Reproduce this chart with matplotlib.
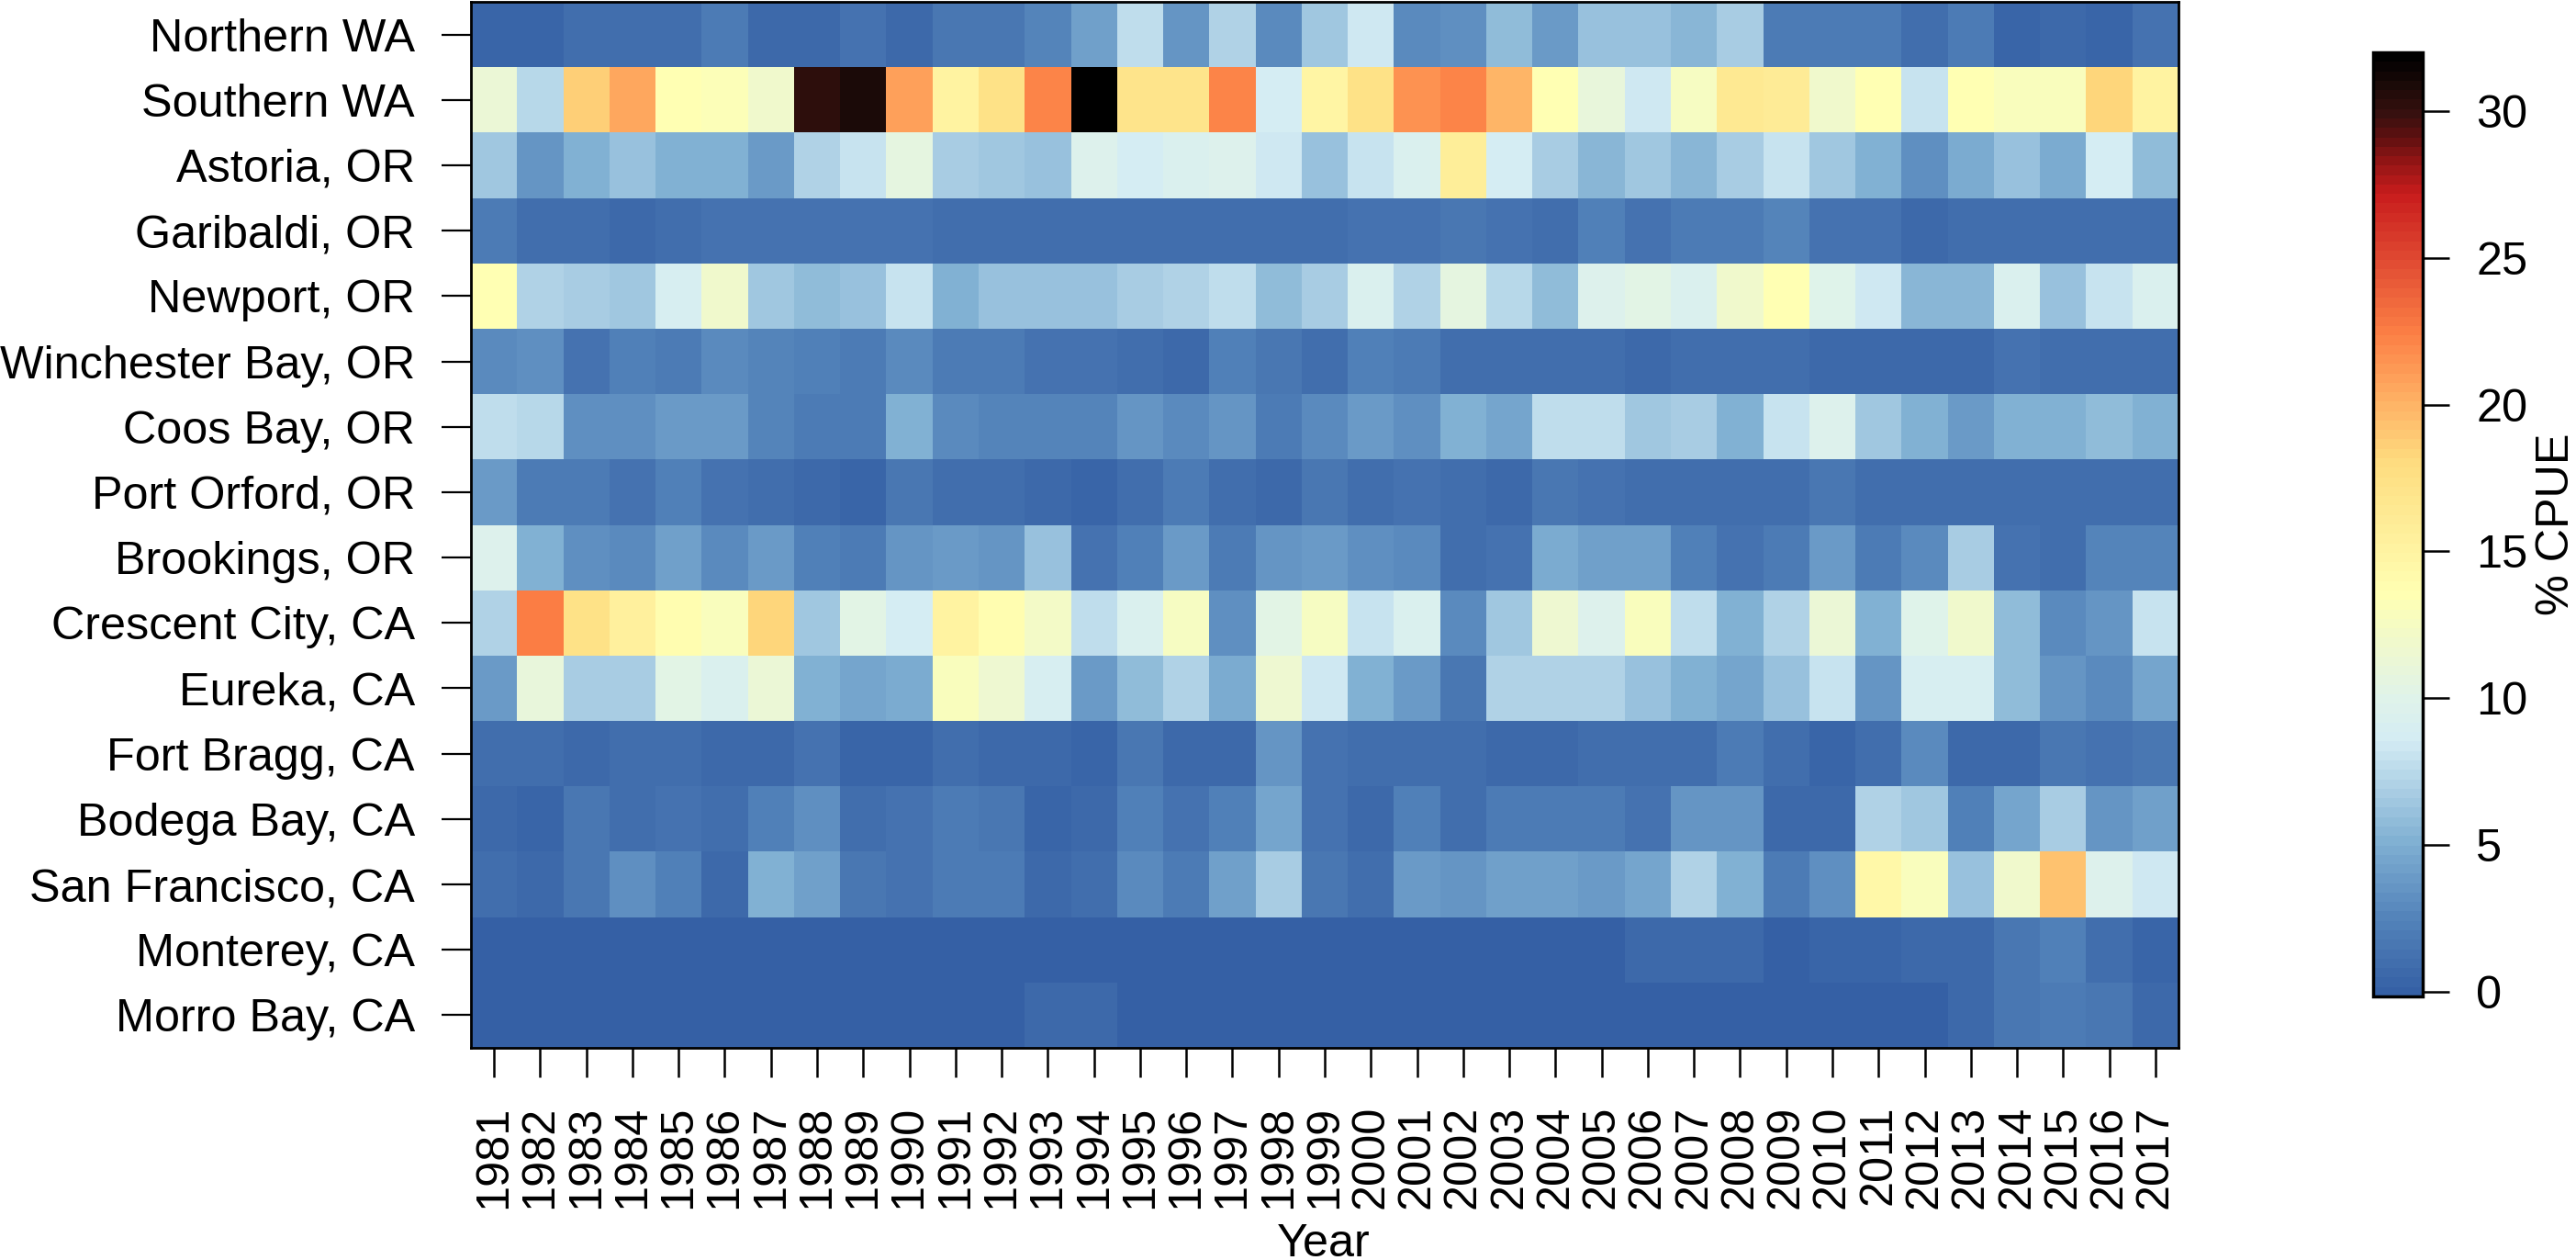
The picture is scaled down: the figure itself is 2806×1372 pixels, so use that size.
import numpy as np
import matplotlib
matplotlib.use('Agg')
import matplotlib.pyplot as plt
from matplotlib.colors import LinearSegmentedColormap, Normalize

plt.rcParams['font.family'] = ['Liberation Sans', 'DejaVu Sans']

years = np.arange(1981, 2018)
ports = ['Northern WA', 'Southern WA', 'Astoria, OR', 'Garibaldi, OR', 'Newport, OR',
         'Winchester Bay, OR', 'Coos Bay, OR', 'Port Orford, OR', 'Brookings, OR',
         'Crescent City, CA', 'Eureka, CA', 'Fort Bragg, CA', 'Bodega Bay, CA',
         'San Francisco, CA', 'Monterey, CA', 'Morro Bay, CA']

# % CPUE, 1981-2017 per port
northern_wa = [0.4, 0.4, 0.9, 0.9, 1.0, 2.0, 0.8, 0.7, 1.4, 0.6, 1.5, 1.6, 2.7, 4.2, 7.7, 3.5, 7.0, 3.0, 6.3, 8.5,
               3.0, 3.2, 5.9, 3.8, 6.0, 6.0, 5.6, 6.8, 1.8, 1.8, 1.8, 1.0, 2.0, 0.4, 0.7, 0.3, 1.3]
southern_wa = [11.3, 7.5, 18.5, 20.5, 13.5, 13.3, 11.8, 30.3, 30.9, 20.8, 15.0, 17.5, 22.3, 32.0, 17.0, 17.0, 22.3, 8.8, 14.8, 17.3,
               21.5, 22.3, 20.0, 13.6, 10.8, 8.3, 12.6, 16.5, 16.0, 11.8, 13.4, 8.2, 13.4, 13.0, 12.8, 18.3, 15.2]
astoria = [6.5, 3.6, 5.3, 6.0, 5.2, 5.0, 3.8, 7.0, 8.0, 10.5, 6.6, 6.3, 6.0, 9.8, 8.8, 9.2, 9.8, 8.4, 6.2, 8.0,
           9.2, 15.8, 8.7, 6.6, 5.6, 6.5, 5.6, 6.6, 8.0, 6.5, 5.0, 3.3, 4.7, 6.0, 4.9, 8.6, 5.8]
garibaldi = [1.8, 0.9, 1.0, 0.6, 1.1, 1.4, 1.2, 1.2, 1.2, 1.2, 1.0, 1.1, 1.1, 0.9, 0.9, 1.0, 1.0, 0.9, 0.9, 1.3,
             1.2, 1.5, 1.3, 1.1, 2.1, 1.2, 1.8, 1.9, 2.5, 1.3, 1.3, 0.8, 1.1, 1.1, 1.0, 1.1, 1.1]
newport = [13.5, 7.0, 6.8, 6.3, 9.0, 12.0, 6.3, 5.8, 6.0, 7.9, 5.3, 6.0, 6.0, 6.0, 6.8, 7.0, 7.8, 5.9, 6.8, 9.3,
           7.0, 10.5, 7.5, 5.9, 9.8, 10.3, 9.3, 11.8, 13.5, 10.0, 8.5, 5.6, 5.6, 9.3, 6.0, 8.2, 9.3]
winchester = [3.0, 3.2, 1.3, 2.2, 2.0, 2.9, 2.7, 2.1, 1.9, 3.0, 1.8, 1.9, 1.4, 1.4, 1.1, 0.8, 2.3, 1.6, 1.1, 2.2,
              1.9, 0.9, 0.9, 0.9, 0.9, 0.7, 0.9, 0.9, 0.9, 0.6, 0.6, 0.6, 0.6, 1.2, 1.0, 1.0, 1.0]
coos_bay = [7.8, 7.3, 3.3, 3.1, 3.9, 3.9, 2.5, 2.0, 1.8, 5.1, 3.0, 2.6, 2.6, 2.6, 3.5, 3.0, 3.4, 2.0, 2.8, 3.9,
            3.1, 5.2, 4.4, 7.8, 7.8, 6.4, 6.8, 5.0, 8.2, 9.7, 6.4, 5.3, 3.7, 5.2, 5.0, 5.8, 5.2]
port_orford = [4.0, 1.9, 1.8, 1.3, 2.4, 1.2, 1.1, 0.5, 0.3, 1.5, 1.0, 1.0, 0.8, 0.4, 1.0, 1.9, 1.0, 0.7, 1.6, 1.1,
               1.2, 0.9, 0.6, 1.6, 1.4, 1.1, 1.1, 1.1, 1.1, 1.6, 1.1, 0.9, 1.1, 1.1, 1.0, 1.0, 1.1]
brookings = [9.8, 5.0, 3.3, 3.0, 4.3, 3.0, 3.7, 2.1, 2.0, 3.6, 4.0, 3.6, 6.2, 1.2, 2.1, 3.9, 2.0, 3.4, 4.0, 3.2,
             2.9, 1.0, 1.3, 4.8, 4.2, 4.2, 2.4, 1.4, 2.0, 3.7, 1.9, 3.0, 6.6, 1.4, 0.9, 2.5, 2.6]
crescent_city = [7.0, 22.5, 17.5, 15.5, 13.8, 13.0, 18.3, 6.4, 10.2, 8.8, 15.0, 13.8, 12.2, 7.8, 9.2, 12.5, 3.1, 10.4, 12.7, 8.0,
                 9.3, 2.8, 6.3, 11.5, 9.8, 13.0, 7.6, 5.1, 7.0, 11.3, 5.0, 10.0, 12.0, 5.7, 3.0, 3.5, 8.0]
eureka = [4.0, 11.0, 6.7, 6.7, 10.2, 9.3, 11.2, 5.1, 4.5, 4.9, 12.8, 11.7, 8.9, 3.9, 5.7, 7.0, 4.7, 11.6, 8.3, 5.2,
          4.0, 1.5, 7.1, 7.1, 7.1, 6.0, 5.3, 4.4, 6.0, 8.0, 3.5, 9.1, 9.1, 5.7, 3.5, 3.0, 4.5]
fort_bragg = [0.9, 0.9, 0.6, 0.9, 0.9, 0.6, 0.8, 1.3, 0.4, 0.2, 0.9, 0.6, 0.7, 0.3, 1.7, 0.5, 0.5, 3.4, 1.2, 1.0,
              1.0, 1.0, 0.6, 0.6, 0.9, 0.9, 0.9, 1.9, 1.1, 0.2, 1.0, 2.9, 0.7, 0.7, 1.6, 1.3, 1.6]
bodega_bay = [0.5, 0.2, 1.5, 1.0, 1.4, 1.1, 2.4, 3.3, 1.0, 1.3, 1.8, 1.5, 0.3, 0.5, 2.2, 1.2, 2.4, 4.6, 1.3, 0.5,
              2.1, 1.0, 1.9, 1.9, 1.9, 1.4, 3.4, 3.4, 0.8, 0.8, 7.0, 6.5, 2.4, 4.5, 6.6, 3.6, 4.3]
san_francisco = [0.9, 0.7, 1.5, 3.2, 2.2, 0.6, 5.2, 4.2, 1.7, 1.4, 1.9, 1.9, 0.7, 0.9, 2.8, 1.8, 4.3, 6.8, 1.6, 1.1,
                 3.7, 3.4, 4.3, 4.3, 3.7, 4.4, 7.0, 5.0, 1.9, 3.3, 14.5, 13.0, 6.0, 11.8, 19.3, 9.8, 8.4]
monterey = [0.1] * 25 + [0.5, 0.5, 0.5, 0.1, 0.4, 0.4, 0.8, 0.8, 1.5, 2.2, 1.1, 0.4]
morro_bay = [0.1] * 12 + [0.6, 0.6] + [0.1] * 18 + [0.8, 1.6, 1.9, 1.5, 0.8]

cpue = np.array([northern_wa, southern_wa, astoria, garibaldi, newport, winchester, coos_bay,
                 port_orford, brookings, crescent_city, eureka, fort_bragg, bodega_bay,
                 san_francisco, monterey, morro_bay])

cbar_ticks = [0, 5, 10, 15, 20, 25, 30]

W, H = 2806, 1372
FS = 36.3
vmin, vmax = -0.16, 32.0

# colour stops as (value, colour)
stops = [(-0.16, '#3560a5'), (2.5, '#5585bb'), (5, '#80b0d3'), (8.5, '#d4ecf4'), (10, '#e0f3e9'),
         (13.5, '#ffffb3'), (18, '#fedd80'), (20.5, '#feaa60'), (22.5, '#fc7f45'), (25, '#e04a32'),
         (27.3, '#c81c1c'), (28.5, '#8c1414'), (29.2, '#621010'), (30, '#38100f'), (31, '#1c0a08'),
         (32, '#000000')]
cmap = LinearSegmentedColormap.from_list(
    'cpue', [((v - vmin) / (vmax - vmin), c) for v, c in stops], N=100)
norm = Normalize(vmin, vmax)

fig = plt.figure(figsize=(W / 100, H / 100), dpi=100)
ax = fig.add_axes([513 / W, 1 - 1141 / H, (2373 - 513) / W, (1141 - 2) / H])

x_edges = np.append(years - 0.5, years[-1] + 0.5)
y_edges = np.arange(len(ports) + 1) - 0.5
mesh = ax.pcolormesh(x_edges, y_edges, cpue, cmap=cmap, norm=norm)
ax.set_ylim(len(ports) - 0.5, -0.5)

ax.set_xticks(years)
ax.set_xticklabels(years, rotation=90, fontsize=FS)
ax.set_yticks(np.arange(len(ports)))
ax.set_yticklabels(ports, fontsize=FS)
ax.tick_params(axis='x', length=23, width=1.8, pad=22)
ax.tick_params(axis='y', length=23, width=1.6, pad=21)
for s in ax.spines.values():
    s.set_linewidth(2)

cax = fig.add_axes([2585 / W, 1 - 1085 / H, 54 / W, (1085 - 57) / H])
cbar = fig.colorbar(mesh, cax=cax)
cbar.set_ticks(cbar_ticks)
cbar.ax.tick_params(length=21, width=1.8, pad=21, labelsize=FS)
cbar.outline.set_linewidth(2.5)

fig.text(1442 / W, 1 - 1368 / H, 'Year', fontsize=FS, ha='center', va='baseline')
fig.text(2785 / W, 1 - 571 / H, '% CPUE', fontsize=FS, rotation=90, ha='center', va='center')

fig.savefig('out.png', dpi=100)
